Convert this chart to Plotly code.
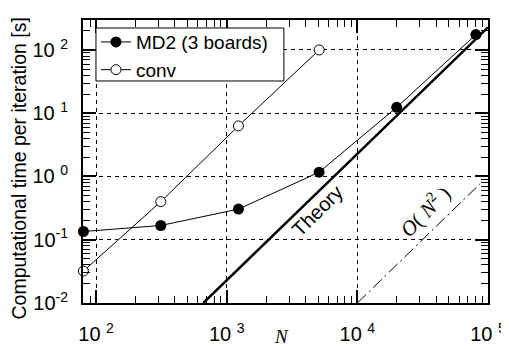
import plotly.graph_objects as go

# ---- data ----
N_md2 = [80, 313, 1230, 5100, 20000, 80800]
T_md2 = [0.135, 0.168, 0.305, 1.17, 12.4, 175]
N_conv = [80, 313, 1230, 5100]
T_conv = [0.032, 0.40, 6.3, 100]
N_theory = [662, 100000]
T_theory = [0.01, 228]
N_on2 = [10000, 87000]
T_on2 = [0.01, 0.77]

x_tickvals = [100, 1000, 10000, 100000]
x_ticktext = ["10 <sup>2</sup>", "10 <sup>3</sup>", "10 <sup>4</sup>", "10 <sup>5</sup>"]
y_tickvals = [0.01, 0.1, 1, 10, 100]
y_ticktext = ["10<sup>-2</sup>", "10<sup>-1</sup>", "10 <sup>0</sup>", "10 <sup>1</sup>", "10 <sup>2</sup>"]

x_minor = [m * 10 ** e for e in range(1, 5) for m in range(2, 10)]
y_minor = [m * 10 ** e for e in range(-2, 3) for m in range(2, 10)]

FONT = "Liberation Sans, Arial, sans-serif"

fig = go.Figure()
fig.add_trace(go.Scatter(x=N_theory, y=T_theory, mode="lines",
                         line=dict(color="black", width=2.5), showlegend=False))
fig.add_trace(go.Scatter(x=N_on2, y=T_on2, mode="lines",
                         line=dict(color="black", width=1, dash="12px,4px,2px,4px"),
                         showlegend=False))
fig.add_trace(go.Scatter(x=N_md2, y=T_md2, mode="lines+markers", name="MD2 (3 boards)",
                         line=dict(color="black", width=1),
                         marker=dict(symbol="circle", size=11, color="black"),
                         cliponaxis=False))
fig.add_trace(go.Scatter(x=N_conv, y=T_conv, mode="lines+markers", name="conv",
                         line=dict(color="black", width=1),
                         marker=dict(symbol="circle", size=10, color="white",
                                     line=dict(color="black", width=1)),
                         cliponaxis=False))

axis_common = dict(
    type="log", showline=True, linecolor="black", linewidth=2, mirror="allticks",
    ticks="inside", ticklen=13, tickwidth=2, tickcolor="black",
    showgrid=True, gridcolor="black", gridwidth=1, griddash="4px,4px",
    zeroline=False, tickfont=dict(family=FONT, size=20, color="black"),
    automargin=False,
)

fig.update_xaxes(**axis_common, range=[1.9, 5], tickvals=x_tickvals, ticktext=x_ticktext,
                 ticklabelstandoff=12,
                 minor=dict(tickvals=x_minor, ticks="inside", ticklen=7, tickwidth=1,
                            tickcolor="black", showgrid=False))
fig.update_yaxes(**axis_common, range=[-2, 2.474], tickvals=y_tickvals, ticktext=y_ticktext,
                 ticklabelstandoff=9,
                 minor=dict(tickvals=y_minor, ticks="inside", ticklen=7, tickwidth=1,
                            tickcolor="black", showgrid=False))

# axis titles placed as annotations to match the reference positions
fig.add_annotation(x=-0.158, y=0.4753, xref="paper", yref="paper",
                   text="Computational time per iteration [s]", showarrow=False,
                   textangle=-90, xanchor="center", yanchor="middle",
                   font=dict(family=FONT, size=19.5, color="black"))
fig.add_annotation(x=0.491, y=-0.12, xref="paper", yref="paper",
                   text="<i>N</i>", showarrow=False, xanchor="center", yanchor="middle",
                   font=dict(family="Liberation Serif, serif", size=19, color="black"))

fig.add_annotation(x=3.691, y=-0.538, xref="x", yref="y", text="Theory", showarrow=False,
                   textangle=-45, font=dict(family=FONT, size=20, color="black"))
fig.add_annotation(x=4.517, y=-0.538, xref="x", yref="y",
                   text="<i>O</i>( <i>N</i><sup>2</sup> )", showarrow=False,
                   textangle=-45, font=dict(family="Liberation Serif, serif", size=21, color="black"))

# legend frame
fig.add_shape(type="rect", xref="paper", yref="paper", x0=0.032, x1=0.496, y0=0.7845, y1=0.9717,
              line=dict(color="black", width=1), fillcolor="white", layer="above")

# the page body adds an 8px offset, so the figure is sized to the remaining window
fig.update_layout(
    width=501, height=341,
    margin=dict(l=75, r=21, t=12, b=46),
    paper_bgcolor="white", plot_bgcolor="white",
    font=dict(family=FONT, color="black"),
    legend=dict(x=0.032, y=0.989, xanchor="left", yanchor="top",
                borderwidth=0, bgcolor="rgba(0,0,0,0)",
                font=dict(family=FONT, size=19, color="black"),
                tracegroupgap=0, itemwidth=30),
)

fig.write_html("out.html")
